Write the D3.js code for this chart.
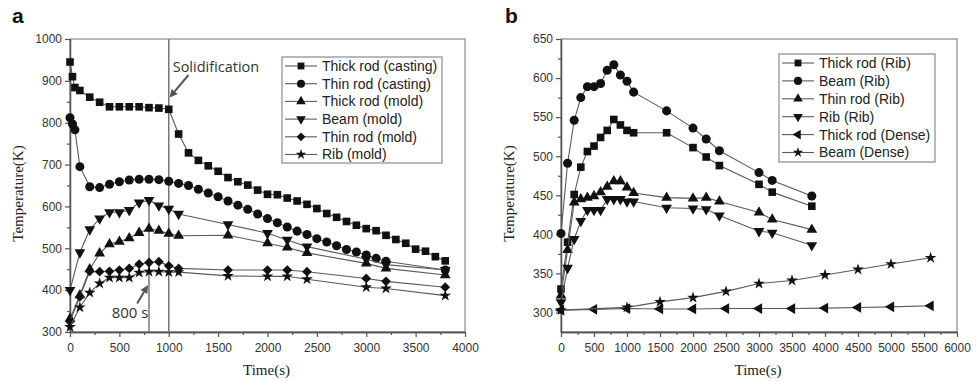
<!DOCTYPE html>
<html>
<head>
<meta charset="utf-8">
<script src="https://cdn.jsdelivr.net/npm/d3@7"></script>
<style>
  body { margin: 0; background: #fff; }
  svg { display: block; }
</style>
</head>
<body>
<div id="chart"></div>
<script>
// ── panel a data ────────────────────────────────────────────────
const timeCastThick = [0, 25, 50, 100, 200, 300, 400, 500, 600, 700, 800, 900, 1000, 1100, 1200, 1300, 1400, 1500,
  1600, 1700, 1800, 1900, 2000, 2100, 2200, 2300, 2400, 2500, 2600, 2700, 2800, 2900, 3000, 3100, 3200, 3300,
  3400, 3500, 3600, 3700, 3800]
const thickRodCasting = [945, 910, 884, 877, 861, 849, 838, 838, 838, 838, 836, 835, 832, 773, 728, 710, 697, 684,
  669, 659, 651, 639, 629, 628, 620, 613, 605, 595, 583, 574, 564, 555, 547, 542, 531, 521,
  512, 498, 493, 480, 470]

const timeCastThin = [0, 25, 50, 100, 200, 300, 400, 500, 600, 700, 800, 900, 1000, 1100, 1200, 1300, 1400, 1500,
  1600, 1700, 1800, 1900, 2000, 2100, 2200, 2300, 2400, 2500, 2600, 2700, 2800, 2900, 3000, 3100, 3200, 3800]
const thinRodCasting = [812, 797, 783, 695, 647, 645, 653, 659, 663, 665, 665, 664, 660, 655, 650, 641, 632, 623,
  613, 603, 593, 582, 571, 561, 551, 541, 533, 523, 515, 506, 497, 491, 484, 476, 469, 448]

const timeMold = [0, 100, 200, 300, 400, 500, 600, 700, 800, 900, 1000, 1100, 1600, 2000, 2200, 2400, 3000, 3200, 3800]
const thickRodMold = [332, 388, 450, 488, 510, 516, 524, 537, 547, 542, 535, 530, 531, 512, 502, 489, 464, 452, 436]
const beamMold     = [400, 490, 545, 571, 586, 586, 591, 609, 615, 602, 594, 582, 557, 536, 520, 504, 474, 461, 448]
const thinRodMold  = [325, 384, 445, 444, 445, 448, 452, 462, 466, 468, 458, 452, 448, 448, 448, 444, 428, 421, 407]
const ribMold      = [312, 359, 394, 416, 430, 430, 430, 442, 444, 444, 443, 443, 434, 433, 433, 426, 407, 404, 387]

const xTicksA = [0, 500, 1000, 1500, 2000, 2500, 3000, 3500, 4000]
const xMinorA = [250, 750, 1250, 1750, 2250, 2750, 3250, 3750]
const yTicksA = [300, 400, 500, 600, 700, 800, 900, 1000]
const yMinorA = [350, 450, 550, 650, 750, 850, 950]

// ── panel b data ────────────────────────────────────────────────
const timeRib = [0, 100, 200, 300, 400, 500, 600, 700, 800, 900, 1000, 1100, 1600, 2000, 2200, 2400, 3000, 3200, 3800]
const thickRodRib = [330, 390, 451, 486, 506, 513, 524, 533, 547, 540, 533, 530, 530, 511, 499, 488, 464, 454, 436]
const beamRib     = [401, 491, 546, 575, 589, 589, 593, 610, 617, 604, 596, 582, 558, 536, 522, 507, 479, 469, 449]
const thinRodRib  = [322, 380, 441, 445, 447, 449, 454, 461, 468, 468, 460, 453, 447, 446, 447, 442, 428, 419, 406]
const ribRib      = [313, 357, 394, 417, 431, 431, 431, 445, 445, 445, 442, 442, 434, 433, 432, 424, 404, 402, 386]

const timeDenseThick = [0, 500, 1000, 1500, 2000, 2500, 3000, 3500, 4000, 4500, 5000, 5600]
const thickRodDense  = [303, 304, 305, 304.5, 304.5, 305, 305, 305, 305.6, 306.4, 307.2, 308.5]
const timeDenseBeam  = [0, 1000, 1500, 2000, 2500, 3000, 3500, 4000, 4500, 5000, 5600]
const beamDense      = [303, 306.5, 313.5, 319, 327, 337, 341, 348, 355, 362, 370]

const xTicksB = [0, 500, 1000, 1500, 2000, 2500, 3000, 3500, 4000, 4500, 5000, 5500, 6000]
const xMinorB = [250, 750, 1250, 1750, 2250, 2750, 3250, 3750, 4250, 4750, 5250, 5750]
const yTicksB = [300, 350, 400, 450, 500, 550, 600, 650]
const yMinorB = [325, 375, 425, 475, 525, 575, 625]

// ── styles ──────────────────────────────────────────────────────
const SANS = 'Liberation Sans, Arial, sans-serif'
const SERIF = 'Liberation Serif, Times New Roman, serif'
const LINE = '#5a5a5a'
const MARK = '#111'

const SYM = {
  square:  { type: d3.symbolSquare,   rot: 0,   size: 58 },
  circle:  { type: d3.symbolCircle,   rot: 0,   size: 64 },
  up:      { type: d3.symbolTriangle, rot: 0,   size: 50 },
  down:    { type: d3.symbolTriangle, rot: 180, size: 50 },
  left:    { type: d3.symbolTriangle, rot: -90, size: 50 },
  diamond: { type: d3.symbolSquare,   rot: 45,  size: 48 },
  star:    { type: d3.symbolStar,     rot: 0,   size: 42 },
}

const panels = [
  {
    label: 'a', labelX: 12,
    box: { left: 70, top: 39, right: 465, bottom: 332 },
    xDomain: [0, 4000], yDomain: [300, 1000],
    xTicks: xTicksA, xMinor: xMinorA, yTicks: yTicksA, yMinor: yMinorA,
    yTitleX: 20,
    legend: { x: 282, y: 57, w: 160, h: 106, row: 17.7 },
    series: [
      { name: 'Thick rod (casting)', t: timeCastThick, v: thickRodCasting, sym: 'square' },
      { name: 'Thin rod (casting)',  t: timeCastThin,  v: thinRodCasting,  sym: 'circle' },
      { name: 'Thick rod (mold)',    t: timeMold,      v: thickRodMold,    sym: 'up' },
      { name: 'Beam (mold)',         t: timeMold,      v: beamMold,        sym: 'down' },
      { name: 'Thin rod (mold)',     t: timeMold,      v: thinRodMold,     sym: 'diamond' },
      { name: 'Rib (mold)',          t: timeMold,      v: ribMold,         sym: 'star' },
    ],
  },
  {
    label: 'b', labelX: 505,
    box: { left: 561, top: 39, right: 957, bottom: 332 },
    xDomain: [0, 6000], yDomain: [275, 650],
    xTicks: xTicksB, xMinor: xMinorB, yTicks: yTicksB, yMinor: yMinorB,
    yTitleX: 511,
    legend: { x: 779, y: 54, w: 156, h: 108, row: 17.9 },
    series: [
      { name: 'Thick rod (Rib)',   t: timeRib,        v: thickRodRib,   sym: 'square' },
      { name: 'Beam (Rib)',        t: timeRib,        v: beamRib,       sym: 'circle' },
      { name: 'Thin rod (Rib)',    t: timeRib,        v: thinRodRib,    sym: 'up' },
      { name: 'Rib (Rib)',         t: timeRib,        v: ribRib,        sym: 'down' },
      { name: 'Thick rod (Dense)', t: timeDenseThick, v: thickRodDense, sym: 'left' },
      { name: 'Beam (Dense)',      t: timeDenseBeam,  v: beamDense,     sym: 'star' },
    ],
  },
]

const svg = d3.select('#chart').append('svg')
  .attr('width', 979).attr('height', 381)
  .style('background', '#fff')

function drawPanel(p) {
  const { box } = p
  const x = d3.scaleLinear().domain(p.xDomain).range([box.left, box.right])
  const y = d3.scaleLinear().domain(p.yDomain).range([box.bottom, box.top])
  const g = svg.append('g')

  // frame
  g.append('rect')
    .attr('x', box.left).attr('y', box.top)
    .attr('width', box.right - box.left).attr('height', box.bottom - box.top)
    .attr('fill', 'none').attr('stroke', '#8a8a8a').attr('stroke-width', 1.2)

  // axes
  const styleAxis = sel => {
    sel.select('.domain').attr('stroke', '#555').attr('stroke-width', 1.3)
    sel.selectAll('.tick line').attr('stroke', '#555').attr('stroke-width', 1.2)
    sel.selectAll('text').attr('fill', '#333').style('font-family', SANS).style('font-size', '12px')
  }
  g.append('g').attr('transform', `translate(0,${box.bottom})`)
    .call(d3.axisBottom(x).tickValues(p.xMinor).tickSize(3).tickFormat('').tickSizeOuter(0))
    .call(styleAxis)
  g.append('g').attr('transform', `translate(0,${box.bottom})`)
    .call(d3.axisBottom(x).tickValues(p.xTicks).tickSize(5).tickPadding(6).tickSizeOuter(0).tickFormat(d3.format('d')))
    .call(styleAxis)
  g.append('g').attr('transform', `translate(${box.left},0)`)
    .call(d3.axisLeft(y).tickValues(p.yMinor).tickSize(3).tickFormat('').tickSizeOuter(0))
    .call(styleAxis)
  g.append('g').attr('transform', `translate(${box.left},0)`)
    .call(d3.axisLeft(y).tickValues(p.yTicks).tickSize(5).tickPadding(3).tickSizeOuter(0).tickFormat(d3.format('d')))
    .call(styleAxis)

  // titles
  g.append('text')
    .attr('transform', `translate(${p.yTitleX},${(box.top + box.bottom) / 2 + 8}) rotate(-90)`)
    .attr('text-anchor', 'middle').attr('dominant-baseline', 'middle')
    .style('font-family', SERIF).style('font-size', '15px').attr('fill', '#222')
    .text('Temperature(K)')
  g.append('text')
    .attr('x', (box.left + box.right) / 2 - 1)
    .attr('y', 375)
    .attr('text-anchor', 'middle')
    .style('font-family', SERIF).style('font-size', '15px').attr('fill', '#222')
    .text('Time(s)')
  g.append('text')
    .attr('x', p.labelX).attr('y', 23)
    .style('font-family', SANS).style('font-size', '21px').style('font-weight', 'bold').attr('fill', '#111')
    .text(p.label)

  return { g, x, y }
}

function drawSeries(g, x, y, series) {
  const line = d3.line().x(d => x(d[0])).y(d => y(d[1]))
  series.forEach(s => {
    const pts = s.t.map((t, i) => [t, s.v[i]])
    g.append('path').datum(pts)
      .attr('d', line).attr('fill', 'none')
      .attr('stroke', LINE).attr('stroke-width', 1.1)
    const sym = SYM[s.sym]
    g.selectAll(null).data(pts).enter().append('path')
      .attr('d', d3.symbol().type(sym.type).size(sym.size)())
      .attr('transform', d => `translate(${x(d[0])},${y(d[1])}) rotate(${sym.rot})`)
      .attr('fill', MARK)
  })
}

function drawLegend(g, lg, series) {
  g.append('rect')
    .attr('x', lg.x).attr('y', lg.y).attr('width', lg.w).attr('height', lg.h)
    .attr('fill', '#fff').attr('stroke', '#8a8a8a').attr('stroke-width', 1.2)
  series.forEach((s, i) => {
    const cy = lg.y + 9 + i * lg.row
    const row = g.append('g')
    row.append('line')
      .attr('x1', lg.x + 3).attr('x2', lg.x + 35).attr('y1', cy).attr('y2', cy)
      .attr('stroke', LINE).attr('stroke-width', 1.1)
    const sym = SYM[s.sym]
    row.append('path')
      .attr('d', d3.symbol().type(sym.type).size(sym.size * 0.8)())
      .attr('transform', `translate(${lg.x + 19},${cy}) rotate(${sym.rot})`)
      .attr('fill', MARK)
    row.append('text')
      .attr('x', lg.x + 40).attr('y', cy).attr('dy', '0.35em')
      .style('font-family', SANS).style('font-size', '14px').attr('fill', '#222')
      .text(s.name)
  })
}

function arrow(g, x, y, from, to) {
  const x1 = x(from[0]), y1 = y(from[1]), x2 = x(to[0]), y2 = y(to[1])
  const ang = Math.atan2(y2 - y1, x2 - x1)
  const L = 8, Wd = 4
  const bx = x2 - L * Math.cos(ang), by = y2 - L * Math.sin(ang)
  g.append('line').attr('x1', x1).attr('y1', y1).attr('x2', bx).attr('y2', by)
    .attr('stroke', '#555').attr('stroke-width', 2)
  g.append('path')
    .attr('d', `M${x2},${y2}L${bx + Wd * Math.sin(ang)},${by - Wd * Math.cos(ang)}L${bx - Wd * Math.sin(ang)},${by + Wd * Math.cos(ang)}Z`)
    .attr('fill', '#555')
}

// ── panel a ─────────────────────────────────────────────────────
const A = drawPanel(panels[0])
// reference lines at solidification (1000 s) and 800 s
A.g.append('line')
  .attr('x1', A.x(1000)).attr('x2', A.x(1000)).attr('y1', A.y(1000)).attr('y2', A.y(300))
  .attr('stroke', '#777').attr('stroke-width', 1.5)
A.g.append('line')
  .attr('x1', A.x(800)).attr('x2', A.x(800)).attr('y1', A.y(615)).attr('y2', A.y(300))
  .attr('stroke', '#777').attr('stroke-width', 1.5)
drawSeries(A.g, A.x, A.y, panels[0].series)
A.g.append('text')
  .attr('x', A.x(1040)).attr('y', A.y(921))
  .style('font-family', 'Open Sans, sans-serif').style('font-size', '14.5px').attr('fill', '#333')
  .text('Solidification')
arrow(A.g, A.x, A.y, [1200, 914], [1008, 860])
A.g.append('text')
  .attr('x', A.x(422)).attr('y', A.y(333))
  .style('font-family', 'Open Sans, sans-serif').style('font-size', '15px').attr('fill', '#333')
  .text('800 s')
arrow(A.g, A.x, A.y, [680, 368], [790, 412])
drawLegend(A.g, panels[0].legend, panels[0].series)

// ── panel b ─────────────────────────────────────────────────────
const B = drawPanel(panels[1])
drawSeries(B.g, B.x, B.y, panels[1].series)
drawLegend(B.g, panels[1].legend, panels[1].series)
</script>
</body>
</html>
